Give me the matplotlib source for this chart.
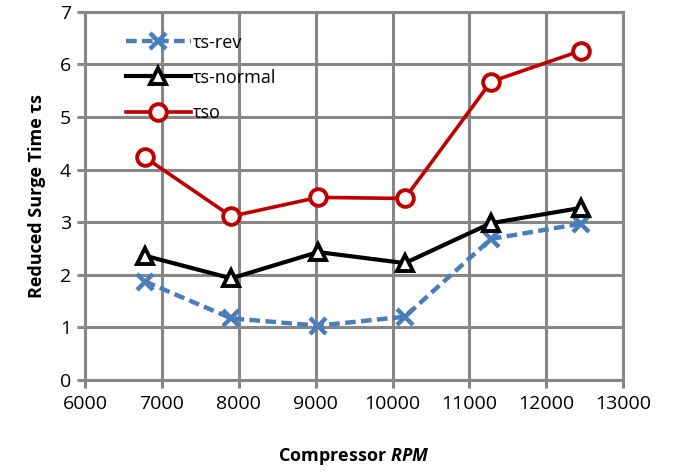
import numpy as np
import matplotlib.pyplot as plt

plt.rcParams['font.family'] = ['Open Sans', 'DejaVu Sans']
plt.rcParams['mathtext.fontset'] = 'custom'
plt.rcParams['mathtext.bfit'] = 'Open Sans:bold:italic'
plt.rcParams['mathtext.it'] = 'Open Sans:italic'

rpm = [6780, 7900, 9030, 10160, 11280, 12450]
tau_rev = [1.87, 1.17, 1.03, 1.20, 2.68, 2.97]
tau_normal = [2.36, 1.93, 2.43, 2.22, 2.98, 3.27]
tau_so = [4.23, 3.11, 3.47, 3.45, 5.67, 6.26]
labels = ['τs-rev', 'τs-normal', 'τso']

grid_col = '#878787'

fig = plt.figure(figsize=(6.81, 4.73), dpi=100)
ax = fig.add_axes([0.125, 0.197, 0.79, 0.778])

ax.plot(rpm, tau_rev, color='#4a7ebb', lw=3.2, ls=(0, (2.4, 1.2)),
        marker='x', ms=11, mew=3.2, label=labels[0], zorder=3)
ax.plot(rpm, tau_normal, color='black', lw=3,
        marker='^', ms=11, mfc='white', mew=2.8, label=labels[1], zorder=4)
ax.plot(rpm, tau_so, color='#c00000', lw=2.6,
        marker='o', ms=12, mfc='white', mew=2.8, label=labels[2], zorder=5)

ax.set_xlim(6000, 13000)
ax.set_ylim(0, 7)
ax.set_xticks(np.arange(6000, 13001, 1000))
ax.set_yticks(np.arange(0, 8, 1))
ax.grid(True, color=grid_col, lw=2.2)
ax.set_axisbelow(True)
for s in ax.spines.values():
    s.set_color(grid_col)
    s.set_linewidth(2.2)
ax.tick_params(direction='out', length=6, width=2.2, color=grid_col,
               labelsize=14, pad=4)
ax.tick_params(axis='x', pad=5)

ax.set_xlabel('Compressor $\\mathbfit{RPM}$', fontsize=13, fontweight='bold', labelpad=24)
ax.set_ylabel('Reduced Surge Time τs', fontsize=13, fontweight='bold', labelpad=10)

leg = ax.legend(loc='upper left', bbox_to_anchor=(0.045, 0.985), frameon=False,
                fontsize=13, handlelength=3.6, handletextpad=0.15,
                labelspacing=0.95)

fig.savefig('out.png', dpi=100)
